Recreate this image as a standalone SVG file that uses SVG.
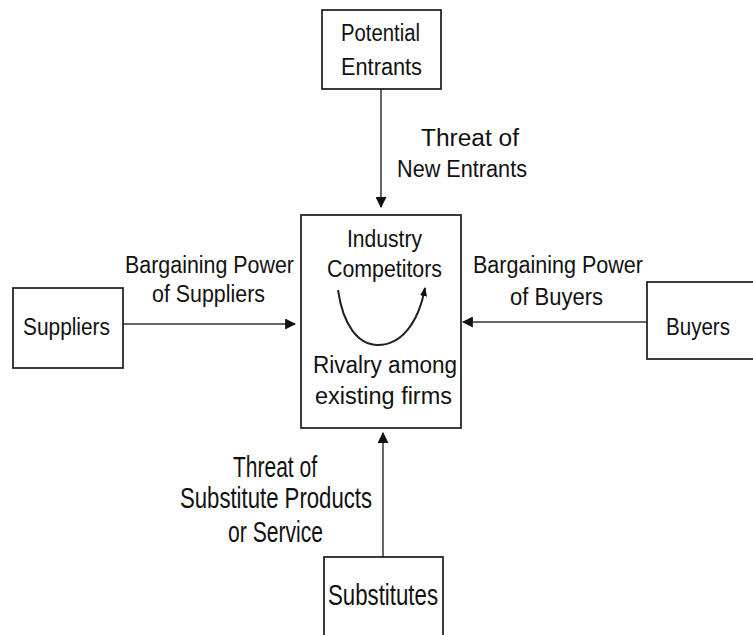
<svg xmlns="http://www.w3.org/2000/svg" width="753" height="635" viewBox="0 0 753 635">
<style>
.box{fill:#fff;stroke:#1a1a1a;stroke-width:1.7}
.t{font-family:"Liberation Sans",Arial,sans-serif;font-size:23px;fill:#111}
.b{font-size:30px}
.ln{stroke:#333;stroke-width:1.5;fill:none}
.arc{stroke:#222;stroke-width:2;fill:none}
</style>
<defs>
<marker id="ah" viewBox="0 0 10 10" refX="9" refY="5" markerWidth="9" markerHeight="9" markerUnits="userSpaceOnUse" orient="auto">
<path d="M0,1 L10,5 L0,9 z" fill="#111"/>
</marker>
<marker id="ah2" viewBox="0 0 10 10" refX="9" refY="5" markerWidth="11" markerHeight="11" markerUnits="userSpaceOnUse" orient="auto">
<path d="M0,0 L10,5 L0,10 z" fill="#111"/>
</marker>
</defs>
<rect width="753" height="635" fill="#fff"/>
<g id="connectors">
<line class="ln" x1="381" y1="89" x2="381" y2="207" marker-end="url(#ah2)"/>
<line class="ln" x1="123" y1="324" x2="295" y2="324" marker-end="url(#ah2)"/>
<line class="ln" x1="647" y1="322" x2="463" y2="322" marker-end="url(#ah2)"/>
<line class="ln" x1="383" y1="557" x2="383" y2="433" marker-end="url(#ah2)"/>
<text class="t" x="421" y="146" textLength="98" lengthAdjust="spacingAndGlyphs">Threat of</text>
<text class="t" x="397" y="177" textLength="130" lengthAdjust="spacingAndGlyphs">New Entrants</text>
<text class="t" x="125" y="273" textLength="169" lengthAdjust="spacingAndGlyphs">Bargaining Power</text>
<text class="t" x="152" y="302" textLength="113" lengthAdjust="spacingAndGlyphs">of Suppliers</text>
<text class="t" x="473" y="273" textLength="170" lengthAdjust="spacingAndGlyphs">Bargaining Power</text>
<text class="t" x="510" y="305" textLength="93" lengthAdjust="spacingAndGlyphs">of Buyers</text>
<text class="t b" x="233" y="477" textLength="84" lengthAdjust="spacingAndGlyphs">Threat of</text>
<text class="t b" x="180" y="508" textLength="192" lengthAdjust="spacingAndGlyphs">Substitute Products</text>
<text class="t b" x="228" y="542" textLength="95" lengthAdjust="spacingAndGlyphs">or Service</text>
</g>
<g id="potential-entrants">
<rect class="box" x="322" y="10" width="119" height="79"/>
<text class="t" x="341" y="41" textLength="79" lengthAdjust="spacingAndGlyphs">Potential</text>
<text class="t" x="341" y="75" textLength="81" lengthAdjust="spacingAndGlyphs">Entrants</text>
</g>
<g id="industry-competitors">
<rect class="box" x="301" y="215" width="160" height="213"/>
<text class="t" x="347" y="247" textLength="75" lengthAdjust="spacingAndGlyphs">Industry</text>
<text class="t" x="327" y="277" textLength="115" lengthAdjust="spacingAndGlyphs">Competitors</text>
<path class="arc" d="M338,290 C343,325 358,345 378,345 C400,345 418,325 425,288" marker-end="url(#ah)"/>
<text class="t" x="313" y="373" textLength="144" lengthAdjust="spacingAndGlyphs">Rivalry among</text>
<text class="t" x="315" y="404" textLength="137" lengthAdjust="spacingAndGlyphs">existing firms</text>
</g>
<g id="suppliers">
<rect class="box" x="13" y="288" width="110" height="80"/>
<text class="t" x="23" y="335" textLength="87" lengthAdjust="spacingAndGlyphs">Suppliers</text>
</g>
<g id="buyers">
<rect class="box" x="647" y="282" width="110" height="77"/>
<text class="t" x="666" y="335" textLength="64" lengthAdjust="spacingAndGlyphs">Buyers</text>
</g>
<g id="substitutes">
<rect class="box" x="324" y="557" width="119" height="90"/>
<text class="t b" x="328" y="605" textLength="110" lengthAdjust="spacingAndGlyphs">Substitutes</text>
</g>
</svg>
